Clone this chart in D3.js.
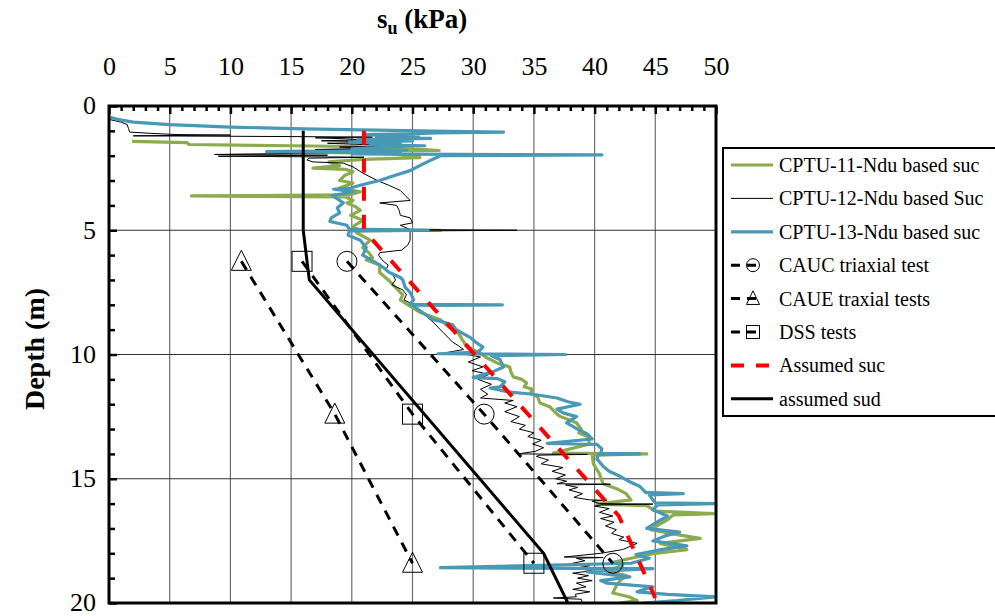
<!DOCTYPE html>
<html>
<head>
<meta charset="utf-8">
<script src="https://cdn.jsdelivr.net/npm/d3@7"></script>
<style>
  html, body { margin: 0; padding: 0; background: #fff; }
  svg { display: block; font-family: "Liberation Serif", "Times New Roman", serif; }
</style>
</head>
<body>
<svg id="chart" width="995" height="616"></svg>
<script>
// ---------- DATA ----------
const suTicks = [0, 5, 10, 15, 20, 25, 30, 35, 40, 45, 50];
const depthTicks = [0, 5, 10, 15, 20];

// CPTU profiles: [depth (m), su (kPa)]
const cptu11 = [
  [1.42,1.9],[1.47,6.4],[1.55,6.6],[1.6,15],[1.63,20],[1.67,23],[1.71,22],[1.75,26],[1.79,27.2],[1.84,13],
  [1.9,22],[2.0,25.5],[2.08,25.6],[2.15,21],[2.25,18.1],[2.4,19],[2.5,16.8],[2.55,19.5],[2.65,20.1],[2.8,19.4],
  [3.0,19],[3.1,20.1],[3.3,19],[3.45,20.7],[3.58,19.8],[3.62,6.8],[3.66,19.5],[3.8,20.1],[3.9,19.6],[4.05,20.3],
  [4.2,20.7],[4.4,19.9],[4.6,20.9],[4.85,20.1],[4.97,20.5],[5.0,27.3],[5.03,20.4],[5.1,20.4],[5.4,21.5],[5.7,20.9],
  [5.9,21.4],[6.1,21.7],[6.2,21.2],[6.4,22.3],[6.7,22.3],[7.0,23.0],[7.3,23.6],[7.6,24.2],[7.8,24],[8.05,24.8],
  [8.3,25.6],[8.6,27.3],[8.9,28],[9.15,28.8],[9.4,29.1],[9.7,29.5],[9.95,30.6],[10.1,31],[10.35,32],[10.5,33],
  [10.7,33.1],[10.9,33.3],[11.0,34.0],[11.15,34.4],[11.3,34.2],[11.4,34.9],[11.55,34.7],[11.7,35.3],[11.95,35.5],[12.1,36.3],
  [12.25,36.6],[12.4,36.9],[12.5,37.2],[12.65,38.0],[12.75,38.5],[13.0,38.9],[13.15,38.7],[13.3,39.4],[13.6,39.6],[13.97,36.6],
  [14.0,44.3],[14.05,39.8],[14.4,39.9],[14.8,40.4],[15.2,40.7],[15.4,41.8],[15.6,42.6],
  [15.85,43],[16.02,40.2],[16.08,44.3],[16.3,45],[16.4,49.8],[16.45,46.5],[16.65,46],[16.85,45.3],[17.05,44.6],[17.25,46.8],
  [17.4,48.7],[17.6,45.4],[17.85,47.6],[18.0,45],[18.2,43],[18.35,41.6],[18.5,42.3],[18.7,41],[18.9,42.6],[19.1,42.1],
  [19.3,41.8],[19.6,41.5],[19.75,42.8],[19.9,43.5],[20.0,42.1]
];
const cptu12 = [
  [0.55,0.1],[0.65,1.0],[0.75,1.5],[0.9,1.6],[1.05,1.7],[1.1,3.4],[1.15,5.6],[1.17,10],[1.2,2],[1.23,15],
  [1.25,21.7],[1.28,17],[1.32,19.5],[1.36,21],[1.4,17.5],[1.45,23],[1.5,18],[1.55,21],[1.6,24],[1.65,19],
  [1.7,22],[1.75,17],[1.8,23],[1.85,20],[1.9,16.3],[1.95,8.7],[1.98,18],[2.02,9],[2.06,21],[2.1,16.5],
  [2.17,16.3],[2.25,16.8],[2.3,19.3],[2.45,20.1],[2.7,20.9],[3.0,22.1],[3.2,23.1],[3.4,24],[3.6,24.4],[3.8,24.8],
  [3.9,22.3],[4.0,23.7],[4.2,23.9],[4.4,24],[4.5,24.8],[4.7,25],[4.8,24],[4.97,24.8],[5.0,33.6],[5.03,24.8],
  [5.2,24.8],[5.4,24.8],[5.6,24.6],[5.8,24.1],[5.9,22.3],[6.0,22.2],[6.25,22.6],[6.4,23],[6.6,22.8],[6.8,23.4],
  [7.0,23.6],[7.2,23.3],[7.4,24.2],[7.6,24.5],[7.8,24.3],[8.0,25.1],[8.2,25.4],[8.4,26],[8.7,26.7],[8.9,27.1],
  [9.1,27.5],[9.3,27.9],[9.5,28.3],[9.65,28.8],[9.8,29.2],[9.95,27.5],[9.97,32],[10.0,29.5],[10.1,30.6],[10.3,29.6],
  [10.5,30.8],[10.65,29.9],[10.8,31.3],[11.0,30.4],[11.2,31.5],[11.4,30.6],[11.6,31.2],[11.75,30.6],[11.85,33.3],[11.95,32.6],
  [12.1,33.6],[12.3,32.6],[12.5,33.8],[12.7,33.1],[12.85,34.3],[13.0,33.8],[13.15,35.0],[13.3,34.5],[13.45,35.6],[13.6,34.9],
  [13.75,35.8],[13.9,35.1],[14.0,33.7],[14.02,39.4],[14.05,35.5],[14.1,35.2],[14.25,36.2],[14.4,35.6],[14.55,37.4],[14.7,36.5],
  [14.85,37.6],[15.0,36.8],[15.1,37.7],[15.2,36.9],[15.22,41.3],[15.25,37.6],[15.35,38.6],[15.45,37.9],[15.6,39.0],[15.75,38.3],
  [15.85,39.6],[15.87,41],[15.9,39.8],[16.0,40.4],[16.02,44.8],[16.05,40.6],[16.1,40.0],[16.2,41.2],[16.35,40.4],[16.5,41.5],
  [16.6,40.5],[16.75,41.6],[16.9,40.9],[17.05,41.8],[17.2,41.4],[17.35,42.4],[17.45,42.0],[17.6,43.5],[17.75,42.8],[17.85,42.3],
  [18.0,40.5],[18.15,37.5],[18.17,40.7],[18.2,38.5],[18.3,39.2],[18.4,38.2],[18.5,39.6],[18.6,38.4],[18.7,39.8],[18.8,38.2],
  [18.9,39.5],[19.0,38.6],[19.1,39.8],[19.2,38.5],[19.35,39.3],[19.45,38.2],[19.55,39.6],[19.65,38.4],[19.75,38.5],[19.8,36.6],
  [19.85,38.9],[20.0,39]
];
const cptu13 = [
  [0.45,0.1],[0.55,0.8],[0.65,2.0],[0.75,5],[0.85,10],[0.92,16],[0.97,22],[1.02,28],[1.05,32.5],[1.08,27],
  [1.12,24.5],[1.15,21],[1.2,25.5],[1.25,22],[1.3,26.5],[1.35,20.5],[1.4,25],[1.45,19.8],[1.5,24],[1.55,21.5],
  [1.6,26],[1.65,22.5],[1.72,20],[1.78,24.5],[1.84,13],[1.88,24],[1.93,20],[1.97,40.6],[2.0,27.3],[2.3,26],
  [2.6,24.8],[2.85,23.2],[3.0,22.3],[3.15,21],[3.3,19.9],[3.35,18.5],[3.45,20.1],[3.6,18.4],[3.9,19.3],[4.1,18.8],
  [4.3,19.0],[4.5,18.3],[4.65,18.2],[4.8,19.6],[4.95,19.8],[5.0,26.3],[5.03,19.8],[5.2,19.7],[5.4,20.7],[5.7,21.2],
  [6.0,20.9],[6.25,21.8],[6.5,22.6],[6.7,23.1],[6.9,24.0],[7.0,24.2],[7.3,24.4],[7.5,24.8],[7.8,25.1],[7.98,24.8],
  [8.0,32.4],[8.03,25],[8.3,25.8],[8.6,26.7],[8.7,27.6],[8.8,28.3],[9.0,28.6],[9.3,29.7],[9.5,30.2],[9.7,30.8],
  [9.9,30.4],[9.97,27.1],[10.0,37.6],[10.05,31.5],[10.2,32.2],[10.5,32.5],[10.7,31.6],[10.93,30],[10.97,32],[11.1,32.6],
  [11.3,32.2],[11.35,31.4],[11.5,32.8],[11.6,34.9],[11.75,36.9],[11.9,37.8],[12.0,38.8],[12.2,36.9],[12.35,37.4],[12.5,38.5],
  [12.75,37.7],[13.0,38.6],[13.2,39.4],[13.4,39.8],[13.58,36.1],[13.62,40.2],[13.8,40.6],[13.98,40.5],[14.0,43.7],[14.03,40.3],
  [14.2,40.2],[14.5,40.7],[14.7,41.2],[14.9,42.1],[15.1,42.8],[15.3,43.7],[15.55,44.2],[15.6,47.3],[15.65,44.5],[15.85,44.8],
  [15.97,45],[16.0,50],[16.05,45.2],[16.25,44.8],[16.5,46],[16.7,45.3],[17.0,44.3],[17.15,47],[17.3,45.8],[17.5,44.8],
  [17.7,47.6],[17.85,45.5],[18.05,43.4],[18.2,44.5],[18.4,43],[18.58,27.3],[18.62,44.8],[18.75,39.4],[18.95,42.9],[19.1,40.5],
  [19.2,41],[19.35,44.8],[19.55,43.5],[19.65,46],[19.75,50],[19.9,46.8],[20.0,44]
];

// Laboratory tests
const testDepth = [6.25, 12.4, 18.4];
const caucSu = [19.6, 30.9, 41.5];
const caueSu = [10.9, 18.6, 25.0];
const dssSu  = [15.9, 25.0, 35.0];

// Assumed design profiles
const assumedSucDepth = [1, 5, 16.5, 19.8];
const assumedSucSu    = [21, 21, 42, 45];
const assumedSudDepth = [1, 5, 7, 18, 20];
const assumedSudSu    = [16, 16, 16.5, 35.8, 37.8];

const legendLabels = [
  "CPTU-11-Ndu based suc", "CPTU-12-Ndu based Suc", "CPTU-13-Ndu based suc",
  "CAUC triaxial test", "CAUE traxial tests", "DSS tests", "Assumed suc", "assumed sud"
];

// ---------- DRAW ----------
const svg = d3.select("#chart");
const L = 109, R = 716, T = 106, B = 603;
const x = d3.scaleLinear().domain([0, 50]).range([L, R]);
const y = d3.scaleLinear().domain([0, 20]).range([T, B]);

const GREEN = "#8CAA4E", BLUE = "#4799B5", RED = "#FF0000";

svg.append("defs").append("clipPath").attr("id", "plotclip")
  .append("rect").attr("x", L).attr("y", T).attr("width", R - L).attr("height", B - T);

// gridlines
const grid = svg.append("g");
grid.selectAll("line.v").data(suTicks.filter(d => d > 0 && d < 50)).join("line")
  .attr("x1", d => x(d)).attr("x2", d => x(d)).attr("y1", T).attr("y2", B)
  .attr("stroke", "#6e6e6e").attr("stroke-width", 1.2);
grid.selectAll("line.h").data(depthTicks.filter(d => d > 0 && d < 20)).join("line")
  .attr("x1", L).attr("x2", R).attr("y1", d => y(d)).attr("y2", d => y(d))
  .attr("stroke", "#333").attr("stroke-width", 1.2);

// axes (ticks inside)
const minorSu = d3.range(0, 51, 1).filter(d => d % 5 !== 0);
const minorDepth = d3.range(0, 21, 1).filter(d => d % 5 !== 0);

const topMinor = svg.append("g").attr("transform", `translate(0,${T})`)
  .call(d3.axisTop(x).tickValues(minorSu).tickSize(-5).tickFormat(""));
const topMajor = svg.append("g").attr("transform", `translate(0,${T})`)
  .call(d3.axisTop(x).tickValues(suTicks).tickSize(-8).tickPadding(31).tickFormat(d3.format("d")));
const leftMinor = svg.append("g").attr("transform", `translate(${L},0)`)
  .call(d3.axisLeft(y).tickValues(minorDepth).tickSize(-6).tickFormat(""));
const leftMajor = svg.append("g").attr("transform", `translate(${L},0)`)
  .call(d3.axisLeft(y).tickValues(depthTicks).tickSize(-8).tickPadding(13).tickFormat(d3.format("d")));
[topMinor, topMajor, leftMinor, leftMajor].forEach(g => {
  g.select(".domain").remove();
  g.selectAll(".tick line").attr("stroke", "#000").attr("stroke-width", 2.5);
  g.selectAll(".tick text").attr("font-family", "Liberation Serif, Times New Roman, serif")
    .attr("font-size", 26).attr("fill", "#000");
});
leftMajor.selectAll(".tick text").attr("dy", "0.3em");

// data layer
const plot = svg.append("g").attr("clip-path", "url(#plotclip)");
const line = d3.line().x(d => x(d[1])).y(d => y(d[0]));

plot.append("path").datum(cptu11).attr("d", line)
  .attr("fill", "none").attr("stroke", GREEN).attr("stroke-width", 3.2).attr("stroke-linejoin", "round");
plot.append("path").datum(cptu12).attr("d", line)
  .attr("fill", "none").attr("stroke", "#000").attr("stroke-width", 1);
plot.append("path").datum(cptu13).attr("d", line)
  .attr("fill", "none").attr("stroke", BLUE).attr("stroke-width", 3.2).attr("stroke-linejoin", "round");

// test series
const tests = [
  { su: caucSu, shape: "circle" },
  { su: caueSu, shape: "triangle" },
  { su: dssSu, shape: "square" }
];
function drawMarker(g, shape, cx, cy, s) {
  if (shape === "circle") {
    g.append("circle").attr("cx", cx).attr("cy", cy).attr("r", s * 0.5)
      .attr("fill", "none").attr("stroke", "#000").attr("stroke-width", 1);
  } else if (shape === "triangle") {
    const h = s * 0.9;
    g.append("path").attr("d", `M${cx},${cy - h / 2 - 2}L${cx + s / 2},${cy + h / 2}L${cx - s / 2},${cy + h / 2}Z`)
      .attr("fill", "none").attr("stroke", "#000").attr("stroke-width", 1);
  } else {
    g.append("rect").attr("x", cx - s / 2).attr("y", cy - s / 2).attr("width", s).attr("height", s)
      .attr("fill", "none").attr("stroke", "#000").attr("stroke-width", 1);
  }
}
tests.forEach(t => {
  const pts = testDepth.map((d, i) => [d, t.su[i]]);
  plot.append("path").datum(pts).attr("d", line)
    .attr("fill", "none").attr("stroke", "#000").attr("stroke-width", 3).attr("stroke-dasharray", "10,8");
  pts.forEach(p => drawMarker(plot, t.shape, x(p[1]), y(p[0]), 20));
});

// assumed profiles
const sucPts = assumedSucDepth.map((d, i) => [d, assumedSucSu[i]]);
const sudPts = assumedSudDepth.map((d, i) => [d, assumedSudSu[i]]);
plot.append("path").datum(sucPts).attr("d", line)
  .attr("fill", "none").attr("stroke", RED).attr("stroke-width", 4).attr("stroke-dasharray", "14,14");
plot.append("path").datum(sudPts).attr("d", line)
  .attr("fill", "none").attr("stroke", "#000").attr("stroke-width", 3);

// frame
svg.append("rect").attr("x", L).attr("y", T).attr("width", R - L).attr("height", B - T)
  .attr("fill", "none").attr("stroke", "#000").attr("stroke-width", 3);

// titles
const title = svg.append("text").attr("x", 377).attr("y", 28)
  .attr("font-size", 27).attr("font-weight", "bold").attr("fill", "#000");
title.append("tspan").text("s");
title.append("tspan").attr("font-size", 18).attr("dy", 6).text("u");
title.append("tspan").attr("dy", -6).text(" (kPa)");

svg.append("text").attr("transform", "translate(44,349) rotate(-90)")
  .attr("text-anchor", "middle").attr("font-size", 28).attr("font-weight", "bold")
  .attr("fill", "#000").text("Depth (m)");

// legend
const lg = svg.append("g");
lg.append("rect").attr("x", 723).attr("y", 148).attr("width", 300).attr("height", 268)
  .attr("fill", "#fff").attr("stroke", "#000").attr("stroke-width", 2);
const legendStyles = [
  { stroke: GREEN, w: 3.2, dash: null, marker: null },
  { stroke: "#000", w: 1, dash: null, marker: null },
  { stroke: BLUE, w: 3.2, dash: null, marker: null },
  { stroke: "#000", w: 3, dash: "9,7", marker: "circle" },
  { stroke: "#000", w: 3, dash: "9,7", marker: "triangle" },
  { stroke: "#000", w: 3, dash: "9,7", marker: "square" },
  { stroke: RED, w: 4, dash: "13,12", marker: null },
  { stroke: "#000", w: 3, dash: null, marker: null }
];
legendLabels.forEach((lab, i) => {
  const cy = 165 + i * 33.4;
  const st = legendStyles[i];
  const x2 = st.marker ? 763 : 773;
  const ln = lg.append("line").attr("x1", 731).attr("x2", x2).attr("y1", cy).attr("y2", cy)
    .attr("stroke", st.stroke).attr("stroke-width", st.w);
  if (st.dash) ln.attr("stroke-dasharray", st.dash);
  if (st.marker) drawMarker(lg, st.marker, 753, cy, 13);
  lg.append("text").attr("x", 779).attr("y", cy).attr("dy", "0.35em")
    .attr("font-size", 20).attr("fill", "#000").text(lab);
});
</script>
</body>
</html>
